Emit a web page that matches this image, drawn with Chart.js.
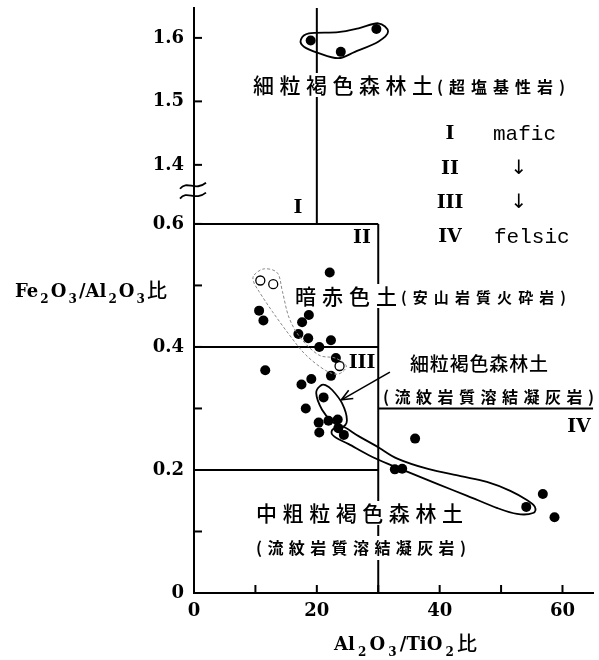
<!DOCTYPE html>
<html><head><meta charset="utf-8">
<script src="https://cdn.jsdelivr.net/npm/chart.js@4.4.1/dist/chart.umd.min.js"></script>
<style>html,body{margin:0;padding:0;background:#fff;}#wrap{width:599px;height:660px;}</style>
</head><body><div id="wrap"><canvas id="c" width="599" height="660"></canvas></div>
<script>
// ---- data (Al2O3/TiO2 ratio = x, Fe2O3/Al2O3 ratio = y) ----
const filledX = [22.1,10.6,11.3,18.7,17.6,17.0,18.6,22.3,20.4,23.1,11.6,19.1,17.5,22.3,21.1,18.2,20.3,21.9,23.4,20.4,23.5,24.4,36.0,32.7,33.9,54.1,56.8,58.7];
const filledY = [0.521,0.459,0.443,0.452,0.440,0.421,0.414,0.411,0.400,0.382,0.362,0.348,0.339,0.353,0.318,0.300,0.277,0.280,0.282,0.261,0.268,0.257,0.251,0.201,0.202,0.140,0.161,0.123];
const openX = [10.8,12.9,23.7];
const openY = [0.508,0.502,0.369];
const upperX = [19.0,23.9,29.7];
const upperY = [1.596,1.578,1.614];
const xTickValues = [0,10,20,30,40,50,60];
const xTickLabels = ['0','','20','','40','','60'];
const yTickValues = [0,0.1,0.2,0.3,0.4,0.5,0.6,1.4,1.5,1.6];
const yTickLabels = ['0','','0.2','','0.4','','0.6','1.4','1.5','1.6'];
// region boundaries [x1,y1,x2,y2]
const boundaries = [[20,1.647,20,0.6],[0,0.6,30,0.6],[30,0.6,30,0],[0,0.4,30,0.4],[0,0.2,30,0.2],[30,0.3,65,0.3]];
// enclosing outlines
const loopUpper = [[17.4,1.597],[18.7,1.607],[23.5,1.609],[26.8,1.615],[30.0,1.623],[31.6,1.610],[30.0,1.594],[26.2,1.578],[23.5,1.568],[20.3,1.576],[17.9,1.586]];
const loopAndesite = [[9.8,0.517],[11.45,0.527],[13.6,0.520],[14.4,0.490],[15.5,0.447],[17.4,0.414],[20.3,0.387],[23.0,0.382],[24.8,0.369],[23.5,0.356],[21.4,0.362],[18.2,0.387],[15.5,0.420],[12.8,0.457],[10.6,0.490],[9.7,0.506]];
const loopFine = [[20.6,0.337],[19.9,0.325],[20.85,0.298],[22.5,0.2785],[24.1,0.270],[24.9,0.281],[24.1,0.3085],[22.5,0.330],[21.4,0.338]];
const loopCoarse = [[22.9,0.268],[24.35,0.270],[26.8,0.255],[30.0,0.237],[33.2,0.218],[38.1,0.2016],[43.4,0.190],[47.7,0.1805],[51.5,0.166],[54.2,0.151],[55.5,0.140],[55.2,0.130],[52.6,0.1285],[49.4,0.138],[44.5,0.158],[39.7,0.177],[34.8,0.197],[31.6,0.2098],[28.4,0.2244],[25.2,0.242],[23.2,0.252],[22.4,0.260]];
const arrowFrom = [31.9,0.359];
const arrowTo = [24.0,0.314];

// broken axis: upper section mapped onto the linear display scale
function disp(v){ return v > 1 ? 0.696 + (v - 1.4) * 1.032 : v; }
const Y_MAX = 0.951;

const datasets = [];
boundaries.forEach(b => datasets.push({
  type:'line', data:[{x:b[0],y:disp(b[1])},{x:b[2],y:disp(b[3])}],
  borderColor:'#000', borderWidth:2, pointRadius:0, pointHitRadius:0, fill:false, tension:0, showLine:true
}));
datasets.push({data: filledX.map((x,i)=>({x, y:filledY[i]})), pointRadius:5, backgroundColor:'#000', borderColor:'#000', borderWidth:0});
datasets.push({data: upperX.map((x,i)=>({x, y:disp(upperY[i])})), pointRadius:5, backgroundColor:'#000', borderColor:'#000', borderWidth:0});
datasets.push({data: openX.map((x,i)=>({x, y:openY[i]})), pointRadius:4.5, backgroundColor:'#fff', borderColor:'#000', borderWidth:1.3});

const SERIF = 'DejaVu Serif';
const CJK = '"Noto Sans CJK JP"';

function drawFit(ctx, str, x0, x1, y, font, bg){
  ctx.save();
  ctx.font = font; ctx.textBaseline = 'middle'; ctx.textAlign = 'left';
  const chars = Array.from(str);
  const ws = chars.map(c => ctx.measureText(c).width);
  const total = ws.reduce((a,b)=>a+b,0);
  const gap = chars.length > 1 ? ((x1 - x0) - total) / (chars.length - 1) : 0;
  if (bg) { ctx.fillStyle = '#fff'; ctx.fillRect(x0 - 2, y - 12, (x1 - x0) + 4, 24); }
  ctx.fillStyle = '#000';
  let x = x0;
  chars.forEach((c,i) => { ctx.fillText(c, x, y); x += ws[i] + gap; });
  ctx.restore();
}

function drawFormula(ctx, parts, x0, x1, base){
  ctx.save(); ctx.textBaseline = 'alphabetic'; ctx.textAlign='left'; ctx.fillStyle='#000';
  const fontOf = p => p[2] ? '500 20px ' + CJK : (p[1] ? 'bold 12px ' + SERIF : 'bold 18px ' + SERIF);
  const ws = parts.map(p => { ctx.font = fontOf(p); return ctx.measureText(p[0]).width; });
  const total = ws.reduce((a,b)=>a+b,0);
  const gap = ((x1 - x0) - total) / (parts.length - 1);
  let x = x0;
  parts.forEach((p,i) => {
    ctx.font = fontOf(p);
    ctx.fillText(p[0], x, base + (p[1] ? 6 : (p[2] ? 1 : 0)));
    x += ws[i] + gap;
  });
  ctx.restore();
}

function closedCurve(ctx, pts){
  const n = pts.length;
  ctx.beginPath();
  ctx.moveTo(pts[0][0], pts[0][1]);
  for (let i = 0; i < n; i++) {
    const p0 = pts[(i-1+n)%n], p1 = pts[i], p2 = pts[(i+1)%n], p3 = pts[(i+2)%n];
    ctx.bezierCurveTo(p1[0] + (p2[0]-p0[0])/6, p1[1] + (p2[1]-p0[1])/6,
                      p2[0] - (p3[0]-p1[0])/6, p2[1] - (p3[1]-p1[1])/6, p2[0], p2[1]);
  }
  ctx.closePath();
}

const overlay = {
  id:'overlay',
  afterDraw(chart){
    const ctx = chart.ctx, xs = chart.scales.x, ys = chart.scales.y, ca = chart.chartArea;
    const P = (x,y) => [xs.getPixelForValue(x), ys.getPixelForValue(disp(y))];
    ctx.save();
    ctx.strokeStyle = '#000'; ctx.lineWidth = 2;
    xs.ticks.forEach(t => { if (t.value === 0) return; const px = xs.getPixelForValue(t.value);
      ctx.beginPath(); ctx.moveTo(px, ca.bottom); ctx.lineTo(px, ca.bottom - 8); ctx.stroke(); });
    ys.ticks.forEach(t => { if (t.value === 0) return; const py = ys.getPixelForValue(t.value);
      ctx.beginPath(); ctx.moveTo(ca.left, py); ctx.lineTo(ca.left + 8, py); ctx.stroke(); });
    ctx.lineWidth = 1.8;
    [0.662, 0.646].forEach(v => { const py = ys.getPixelForValue(v), px = ca.left;
      ctx.beginPath(); ctx.moveTo(px - 14, py + 3);
      ctx.bezierCurveTo(px - 7, py - 6, px + 1, py + 6, px + 12, py - 3); ctx.stroke(); });

    drawFit(ctx, '細粒褐色森林土', 253, 433, 85, '500 21px ' + CJK, true);
    drawFit(ctx, '(超塩基性岩)', 437, 565, 87, 'bold 16px ' + CJK, true);
    drawFit(ctx, '暗赤色土', 295, 397, 296, '500 21px ' + CJK, true);
    drawFit(ctx, '(安山岩質火砕岩)', 401, 566, 297, 'bold 15px ' + CJK, true);
    drawFit(ctx, '細粒褐色森林土', 410, 548, 364, '500 19px ' + CJK, false);
    drawFit(ctx, '(流紋岩質溶結凝灰岩)', 383, 594, 397, 'bold 16px ' + CJK, false);
    drawFit(ctx, '中粗粒褐色森林土', 256, 463, 513, '500 21px ' + CJK, true);
    drawFit(ctx, '(流紋岩質溶結凝灰岩)', 256, 466, 548, 'bold 16px ' + CJK, true);

    ctx.strokeStyle = '#000'; ctx.lineWidth = 1.8;
    [loopUpper, loopFine, loopCoarse].forEach(l => { closedCurve(ctx, l.map(p => P(p[0], p[1]))); ctx.stroke(); });
    ctx.save(); ctx.strokeStyle = '#888'; ctx.lineWidth = 1; ctx.setLineDash([3,2]);
    closedCurve(ctx, loopAndesite.map(p => P(p[0], p[1]))); ctx.stroke(); ctx.restore();

    const a0 = P(arrowFrom[0], arrowFrom[1]), a1 = P(arrowTo[0], arrowTo[1]);
    ctx.lineWidth = 1.6; ctx.beginPath(); ctx.moveTo(a0[0], a0[1]); ctx.lineTo(a1[0], a1[1]); ctx.stroke();
    const ang = Math.atan2(a0[1]-a1[1], a0[0]-a1[0]);
    ctx.beginPath();
    ctx.moveTo(a1[0] + 12*Math.cos(ang+0.4), a1[1] + 12*Math.sin(ang+0.4));
    ctx.lineTo(a1[0], a1[1]);
    ctx.lineTo(a1[0] + 12*Math.cos(ang-0.4), a1[1] + 12*Math.sin(ang-0.4));
    ctx.stroke();

    ctx.fillStyle = '#000'; ctx.textAlign = 'center'; ctx.textBaseline = 'middle';
    ctx.font = 'bold 19px ' + SERIF;
    [['I',298,208],['II',362,238],['III',362,363],['IV',579,427],
     ['I',450,134],['II',450,169],['III',450,203],['IV',450,237]].forEach(r => ctx.fillText(r[0], r[1], r[2]));
    ctx.textAlign = 'left'; ctx.font = '21px "Liberation Mono"';
    ctx.fillText('mafic', 493, 134); ctx.fillText('felsic', 494, 237);
    ctx.textAlign = 'center'; ctx.font = '20px "DejaVu Sans"';
    ctx.fillText('↓', 519, 169); ctx.fillText('↓', 519, 203);

    drawFormula(ctx, [['Fe',0],['2',1],['O',0],['3',1],['/Al',0],['2',1],['O',0],['3',1],['比',0,1]], 15, 167, 297);
    drawFormula(ctx, [['Al',0],['2',1],['O',0],['3',1],['/TiO',0],['2',1],['比',0,1]], 334, 477, 650);
    ctx.restore();
  }
};

new Chart(document.getElementById('c'), {
  type:'scatter',
  data:{datasets},
  options:{
    responsive:false, animation:false,
    plugins:{legend:{display:false}, tooltip:{enabled:false}},
    layout:{padding:{left:0, right:1, top:8, bottom:0}},
    scales:{
      x:{type:'linear', min:0, max:65,
        afterBuildTicks: s => { s.ticks = xTickValues.map(v => ({value:v})); },
        afterFit: s => { s.height = 67; s.paddingLeft = 0; s.paddingRight = 0; },
        ticks:{callback:(v,i) => xTickLabels[i], font:{family:SERIF, weight:'bold', size:18}, color:'#000', padding:8, maxRotation:0, autoSkip:false},
        grid:{display:true, drawOnChartArea:false, drawTicks:false},
        border:{display:true, color:'#000', width:2}},
      y:{type:'linear', min:0, max:Y_MAX,
        afterBuildTicks: s => { s.ticks = yTickValues.map(v => ({value:disp(v)})); },
        afterFit: s => { s.width = 194; s.paddingTop = 0; s.paddingBottom = 0; },
        ticks:{callback:(v,i) => yTickLabels[i], font:{family:SERIF, weight:'bold', size:18}, color:'#000', padding:10, autoSkip:false},
        grid:{display:true, drawOnChartArea:false, drawTicks:false},
        border:{display:true, color:'#000', width:2}}
    }
  },
  plugins:[overlay]
});
</script></body></html>
